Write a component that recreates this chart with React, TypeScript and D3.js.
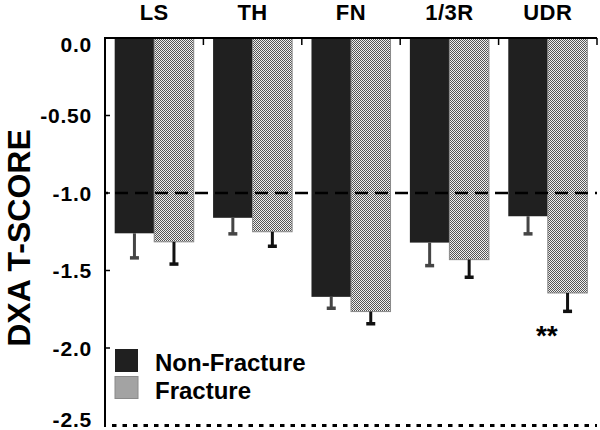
import React from "react";
import * as d3 from "d3";

const categories = ["LS", "TH", "FN", "1/3R", "UDR"];
const series = ["Non-Fracture", "Fracture"];
const nonFracture = [-1.26, -1.16, -1.67, -1.32, -1.15];
const nonFractureErr = [0.165, 0.11, 0.08, 0.155, 0.12];
const fracture = [-1.315, -1.25, -1.765, -1.43, -1.645];
const fractureErr = [0.15, 0.1, 0.085, 0.12, 0.125];
const yTicks = [0, -0.5, -1.0, -1.5, -2.0, -2.5];
const yTickLabels = ["0.0", "-0.50", "-1.0", "-1.5", "-2.0", "-2.5"];
const yLabel = "DXA T-SCORE";
const significance = ["", "", "", "", "**"];
const refDashed = -1.0;
const refDotted = -2.5;

const W = 600;
const H = 430;
const FONT = "'Liberation Sans', Arial, Helvetica, sans-serif";

export default function App() {
  const left = 105;
  const right = 597;
  const top = 38;
  const bottom = 425.5;

  const x = d3.scaleBand<string>().domain(categories).range([left, right]).padding(0);
  const xs = d3
    .scaleBand<string>()
    .domain(series)
    .range([0, x.bandwidth()])
    .paddingInner(0)
    .paddingOuter(0.245);
  const y = d3.scaleLinear().domain([0, -2.5]).range([top, bottom]);

  const values = [nonFracture, fracture];
  const errs = [nonFractureErr, fractureErr];
  const errColors = ["#454545", "#111"];

  return (
    <svg
      width={W}
      height={H}
      style={{ position: "absolute", left: 0, top: 0, background: "#fff" }}
      fontFamily={FONT}
      fontWeight="bold"
    >
      <defs>
        <pattern id="checker" width={2} height={2} patternUnits="userSpaceOnUse">
          <rect x={0} y={0} width={2} height={2} fill="#f0f0f0" />
          <rect x={0} y={0} width={1} height={1} fill="#555" />
          <rect x={1} y={1} width={1} height={1} fill="#555" />
        </pattern>
      </defs>

      {/* bars */}
      {categories.map((c, i) =>
        series.map((s, si) => {
          const v = values[si][i];
          const bx = (x(c) ?? 0) + (xs(s) ?? 0);
          const bw = xs.bandwidth();
          return (
            <rect
              key={c + s}
              x={bx}
              y={y(0)}
              width={bw}
              height={y(v) - y(0)}
              fill={si === 0 ? "#202020" : "url(#checker)"}
              stroke={si === 0 ? "none" : "#8a8a8a"}
              strokeWidth={si === 0 ? 0 : 1}
            />
          );
        })
      )}

      {/* error bars */}
      {categories.map((c, i) =>
        series.map((s, si) => {
          const v = values[si][i];
          const e = errs[si][i];
          const cx = (x(c) ?? 0) + (xs(s) ?? 0) + xs.bandwidth() / 2;
          return (
            <g key={"e" + c + s} stroke={errColors[si]}>
              <line x1={cx} x2={cx} y1={y(v)} y2={y(v - e)} strokeWidth={3} />
              <line x1={cx - 4.5} x2={cx + 4.5} y1={y(v - e) - 1} y2={y(v - e) - 1} strokeWidth={3.5} />
            </g>
          );
        })
      )}

      {/* reference lines */}
      <line
        x1={left}
        x2={right}
        y1={y(refDashed)}
        y2={y(refDashed)}
        stroke="#000"
        strokeWidth={2.5}
        strokeDasharray="13,7"
        strokeDashoffset={-10}
      />
      <line
        x1={left}
        x2={right}
        y1={y(refDotted)}
        y2={y(refDotted)}
        stroke="#000"
        strokeWidth={3}
        strokeDasharray="4.5,6"
        strokeDashoffset={-7}
      />

      {/* axes */}
      <line x1={left} x2={left} y1={top} y2={bottom + 1.5} stroke="#000" strokeWidth={2} />
      <line x1={left - 1} x2={right} y1={top} y2={top} stroke="#000" strokeWidth={2} />
      {yTicks.slice(1, -1).map((t) => (
        <line key={"yt" + t} x1={left} x2={left + 5} y1={y(t)} y2={y(t)} stroke="#000" strokeWidth={1.5} />
      ))}
      {categories.map((c) => (
        <line
          key={"xt" + c}
          x1={(x(c) ?? 0) + x.bandwidth()}
          x2={(x(c) ?? 0) + x.bandwidth()}
          y1={top}
          y2={top + 7}
          stroke="#000"
          strokeWidth={1.5}
        />
      ))}

      {/* tick labels */}
      {yTicks.map((t, i) => (
        <text
          key={"yl" + t}
          x={92}
          y={Math.min(Math.max(y(t), 44), 419)}
          textAnchor="end"
          dominantBaseline="central"
          fontSize={21}
          letterSpacing={0.8}
          fill="#000"
        >
          {yTickLabels[i]}
        </text>
      ))}

      {/* category labels */}
      {categories.map((c) => (
        <text
          key={"cl" + c}
          x={(x(c) ?? 0) + x.bandwidth() / 2}
          y={20}
          textAnchor="middle"
          fontSize={22}
          letterSpacing={0.5}
          fill="#000"
        >
          {c}
        </text>
      ))}

      {/* significance */}
      {categories.map((c, i) =>
        significance[i] ? (
          <text
            key={"sig" + c}
            x={(x(c) ?? 0) + x.bandwidth() / 2 - 1}
            y={y(fracture[i] - fractureErr[i]) + 33}
            textAnchor="middle"
            fontSize={28}
            fill="#000"
          >
            {significance[i]}
          </text>
        ) : null
      )}

      {/* y axis label */}
      <text
        transform={`translate(30, 238) rotate(-90)`}
        textAnchor="middle"
        fontSize={32}
        fill="#000"
      >
        {yLabel}
      </text>

      {/* legend */}
      {series.map((s, si) => (
        <g key={"lg" + s} transform={`translate(115, ${349 + si * 27.5})`}>
          <rect
            x={0}
            y={0}
            width={23}
            height={si === 0 ? 23 : 22}
            fill={si === 0 ? "#202020" : "url(#checker)"}
            stroke={si === 0 ? "none" : "#8a8a8a"}
            strokeWidth={1}
          />
          <text x={40} y={22} fontSize={24} fill="#000">
            {s}
          </text>
        </g>
      ))}
    </svg>
  );
}
